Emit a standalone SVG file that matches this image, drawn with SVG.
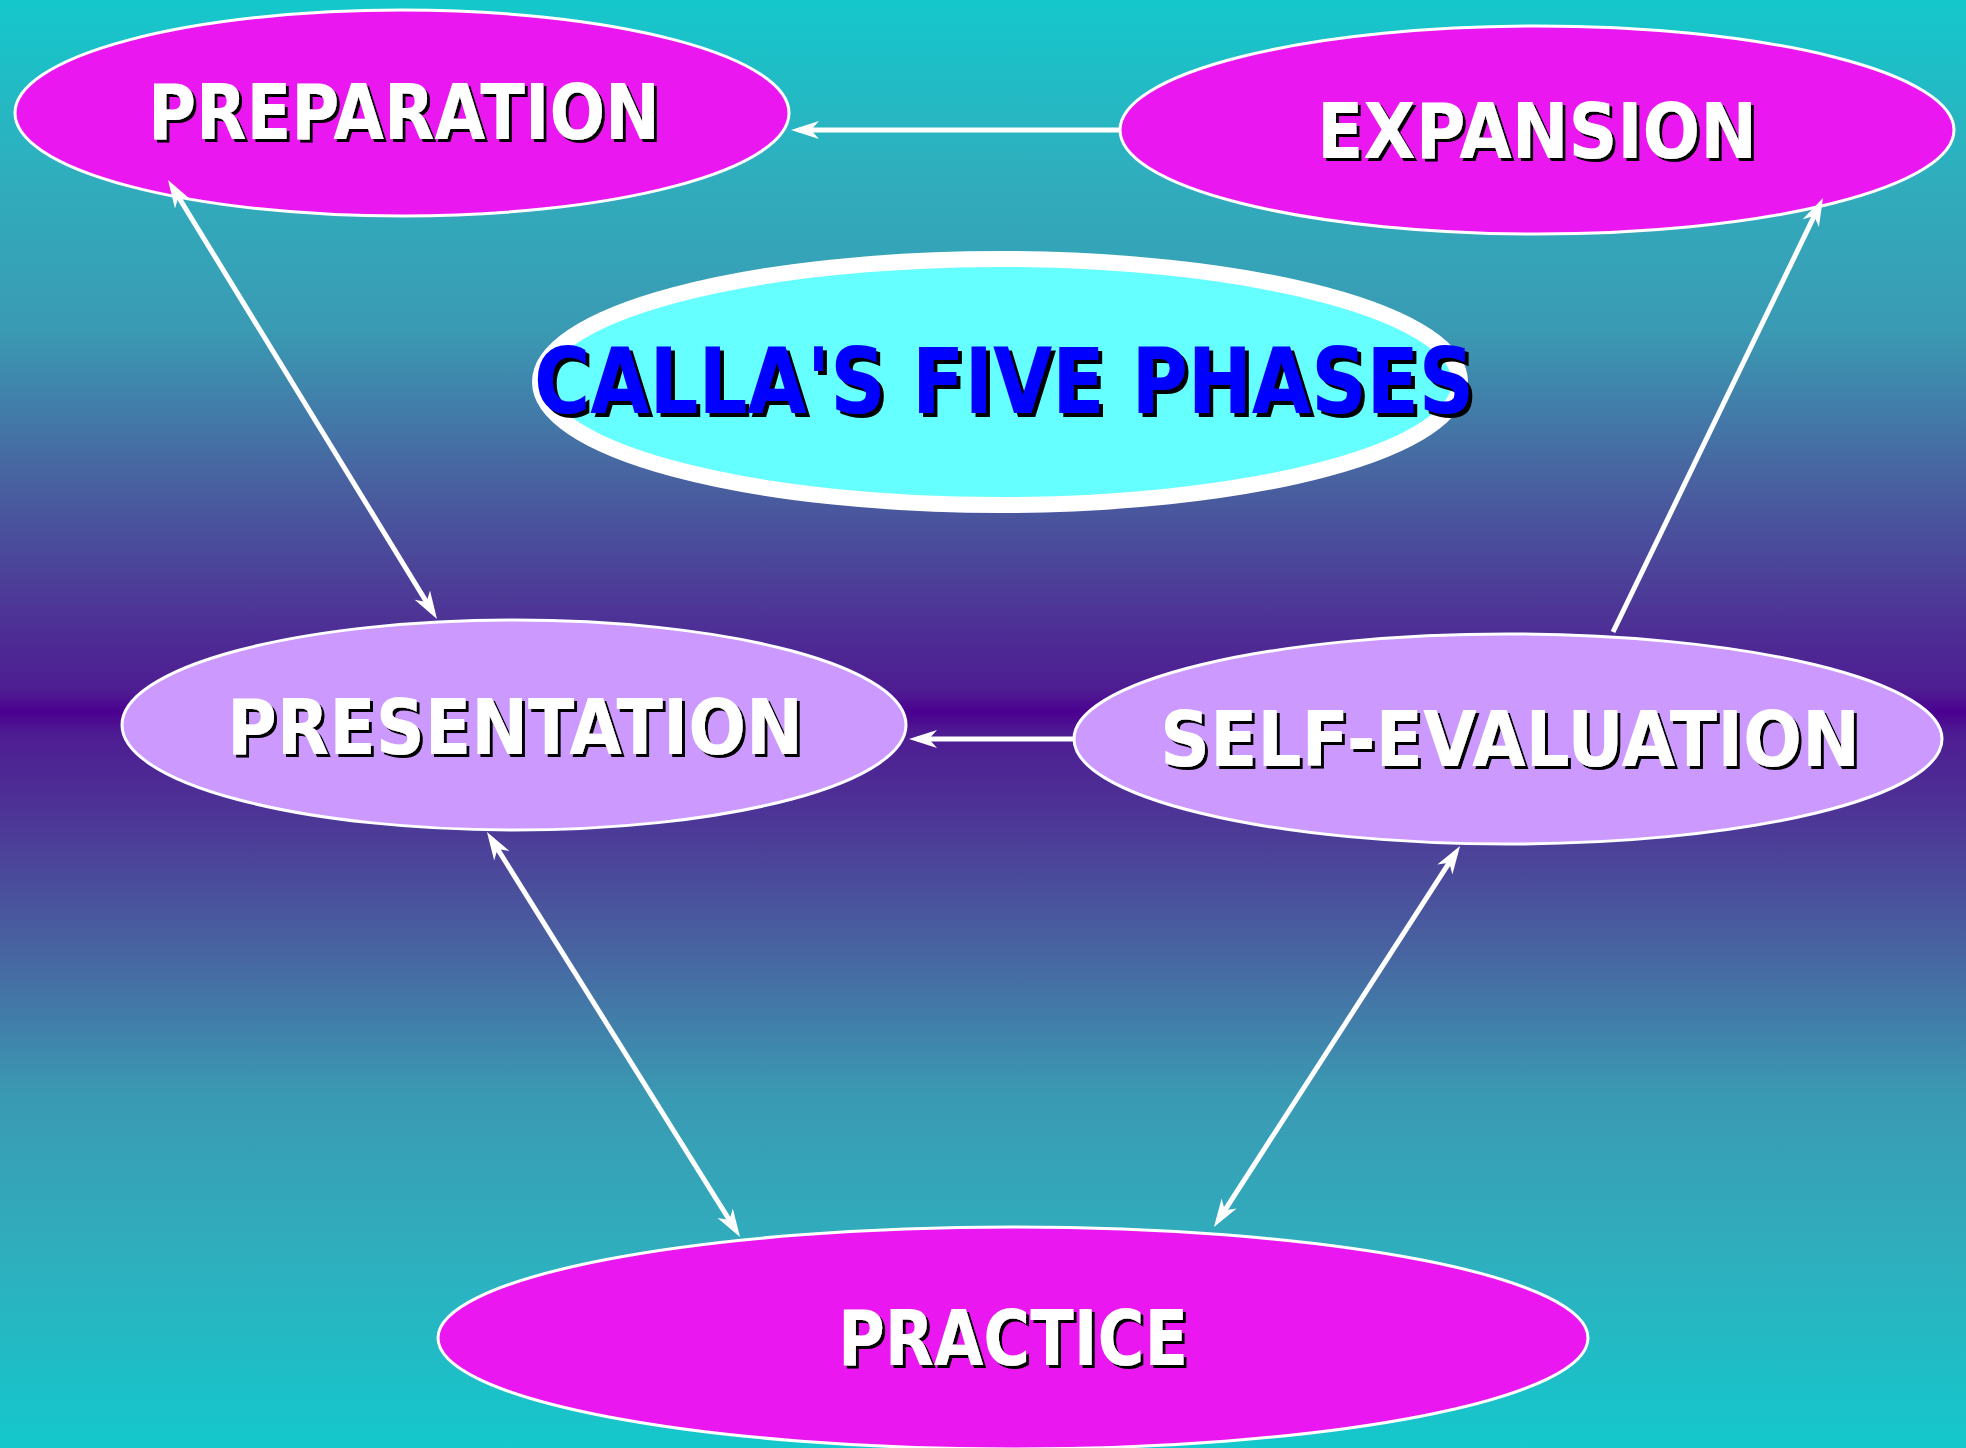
<svg xmlns="http://www.w3.org/2000/svg" width="1966" height="1448" viewBox="0 0 1966 1448">
  <defs>
    <linearGradient id="bg" x1="0" y1="0" x2="0" y2="1">
      <stop offset="0" stop-color="#14C8CC"/>
      <stop offset="0.124" stop-color="#30ADBD"/>
      <stop offset="0.228" stop-color="#3A9AB3"/>
      <stop offset="0.331" stop-color="#4862A0"/>
      <stop offset="0.423" stop-color="#4D3496"/>
      <stop offset="0.477" stop-color="#4E1C92"/>
      <stop offset="0.492" stop-color="#4B0090"/>
      <stop offset="0.507" stop-color="#4E1C92"/>
      <stop offset="0.561" stop-color="#4D3496"/>
      <stop offset="0.653" stop-color="#4862A0"/>
      <stop offset="0.757" stop-color="#3A9AB3"/>
      <stop offset="0.860" stop-color="#30ADBD"/>
      <stop offset="1" stop-color="#14C8CC"/>
    </linearGradient>
    <filter id="shadow" x="-5%" y="-20%" width="115%" height="150%">
      <feOffset in="SourceAlpha" dx="3" dy="3" result="off"/>
      <feFlood flood-color="#000000"/>
      <feComposite in2="off" operator="in" result="sh"/>
      <feMerge>
        <feMergeNode in="sh"/>
        <feMergeNode in="SourceGraphic"/>
      </feMerge>
    </filter>
    <filter id="shadow4" x="-5%" y="-20%" width="115%" height="150%">
      <feOffset in="SourceAlpha" dx="4" dy="4" result="off"/>
      <feFlood flood-color="#000000"/>
      <feComposite in2="off" operator="in" result="sh"/>
      <feMerge>
        <feMergeNode in="sh"/>
        <feMergeNode in="SourceGraphic"/>
      </feMerge>
    </filter>
    <marker id="arr" viewBox="-30 -12 32 24" markerWidth="32" markerHeight="24" refX="-8" refY="0" markerUnits="userSpaceOnUse" orient="auto-start-reverse">
      <path d="M0,0 L-28,-9 L-20,0 L-28,9 Z" fill="#FFFFFF"/>
    </marker>
    <style>
      .pink { fill: #EB17F0; stroke: #FFFFFF; stroke-width: 3; }
      .lav { fill: #CC99FF; stroke: #FFFFFF; stroke-width: 3; }
      .lbl { font-family: "DejaVu Sans", "Liberation Sans", sans-serif; font-weight: bold; font-size: 76px; text-anchor: middle; fill: #FFFFFF; filter: url(#shadow); }
      .title { font-family: "DejaVu Sans", "Liberation Sans", sans-serif; font-weight: bold; font-size: 90px; text-anchor: middle; fill: #0000FF; filter: url(#shadow4); }
      .conn { stroke: #FFFFFF; stroke-width: 5; fill: none; }
    </style>
  </defs>

  <rect x="0" y="0" width="1966" height="1448" fill="url(#bg)"/>

  <g id="title">
    <ellipse cx="1000" cy="382" rx="460" ry="123" fill="#66FFFF" stroke="#FFFFFF" stroke-width="16"/>
    <text class="title" x="1004" y="413" textLength="940" lengthAdjust="spacingAndGlyphs">CALLA'S FIVE PHASES</text>
  </g>

  <g id="preparation">
    <ellipse class="pink" cx="402" cy="113" rx="387" ry="103"/>
    <text class="lbl" x="404" y="139" textLength="512" lengthAdjust="spacingAndGlyphs">PREPARATION</text>
  </g>

  <g id="expansion">
    <ellipse class="pink" cx="1537" cy="130" rx="417" ry="104"/>
    <text class="lbl" x="1537" y="158" textLength="440" lengthAdjust="spacingAndGlyphs">EXPANSION</text>
  </g>

  <g id="presentation">
    <ellipse class="lav" cx="514" cy="725" rx="392" ry="105"/>
    <text class="lbl" x="515" y="754" textLength="576" lengthAdjust="spacingAndGlyphs">PRESENTATION</text>
  </g>

  <g id="self-evaluation">
    <ellipse class="lav" cx="1508" cy="739" rx="434" ry="105"/>
    <text class="lbl" x="1510" y="766" textLength="700" lengthAdjust="spacingAndGlyphs">SELF-EVALUATION</text>
  </g>

  <g id="practice">
    <ellipse class="pink" cx="1013" cy="1338" rx="575" ry="111"/>
    <text class="lbl" x="1013" y="1365" textLength="350" lengthAdjust="spacingAndGlyphs">PRACTICE</text>
  </g>

  <g id="connectors">
    <line class="conn" x1="1120" y1="130" x2="799" y2="130" marker-end="url(#arr)"/>
    <line class="conn" x1="172.2" y1="186.8" x2="432.8" y2="612.2" marker-start="url(#arr)" marker-end="url(#arr)"/>
    <line class="conn" x1="1613" y1="632" x2="1819.5" y2="205.2" marker-end="url(#arr)"/>
    <line class="conn" x1="1073" y1="739" x2="917" y2="739" marker-end="url(#arr)"/>
    <line class="conn" x1="491.2" y1="838.8" x2="735.8" y2="1230.2" marker-start="url(#arr)" marker-end="url(#arr)"/>
    <line class="conn" x1="1455.7" y1="852.7" x2="1218.3" y2="1220.3" marker-start="url(#arr)" marker-end="url(#arr)"/>
  </g>
</svg>
